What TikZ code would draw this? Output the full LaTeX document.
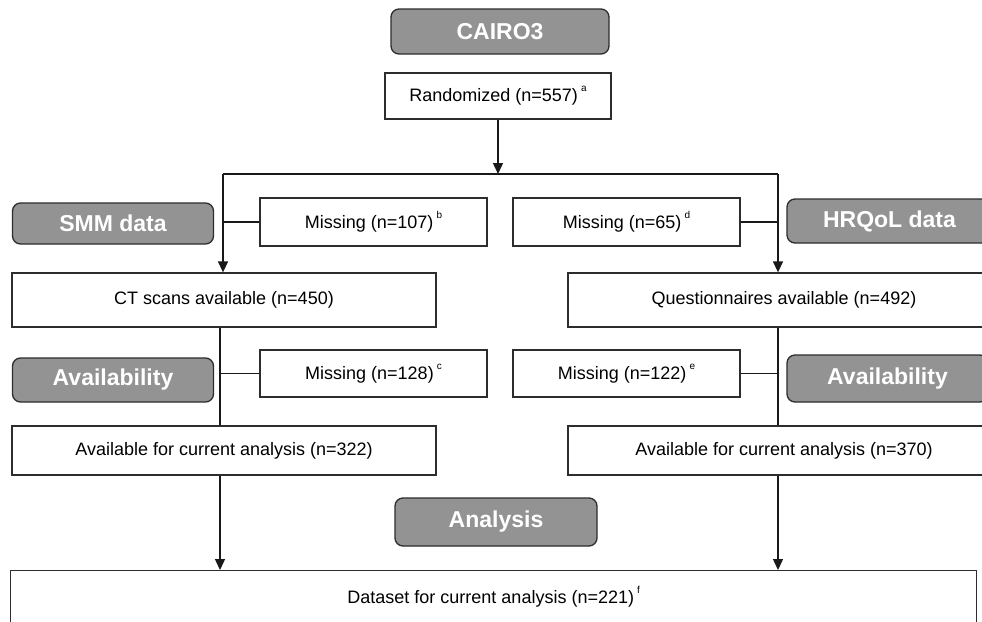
\documentclass[tikz,border=0pt]{standalone}
\usepackage{fontspec}
\setmainfont{Liberation Sans}
\usetikzlibrary{arrows.meta}
\definecolor{graybox}{RGB}{147,147,147}
\definecolor{edge}{RGB}{45,45,45}
\newcommand{\supmark}[1]{\,\raisebox{0.55em}{\fontsize{10}{10}\selectfont #1}}
\begin{document}
\begin{tikzpicture}[x=1pt,y=-1pt,
  wbox/.style={draw=edge, line width=1.3pt, fill=white, inner sep=0pt,
    font=\fontsize{18}{20}\selectfont},
  gbox/.style={draw=edge, line width=1.3pt, fill=graybox, rounded corners=8pt,
    inner sep=0pt, text=white, font=\fontsize{23}{25}\selectfont\bfseries},
  conn/.style={line width=1.4pt, black!90},
  arr/.style={conn, -{Triangle[width=10pt,length=11pt]}}
]
\clip (0,0) rectangle (982,621);
\fill[white] (0,0) rectangle (982,621);

% title and top
\node[gbox, minimum width=218pt, minimum height=45pt] (cairo) at (500,31.5) {CAIRO3};
\node[wbox, minimum width=226pt, minimum height=46pt] (rand) at (498,96) {Randomized (n=557)\supmark{a}};

% category labels
\node[gbox, minimum width=201pt, minimum height=41pt] (smm) at (113,223.5) {SMM data};
\node[gbox, minimum width=205pt, minimum height=44pt] (hrq) at (889.5,221) {HRQoL data};
\node[gbox, minimum width=201pt, minimum height=44pt] (avl) at (113,380) {\raisebox{-2pt}{Availability}};
\node[gbox, minimum width=201pt, minimum height=47pt] (avr) at (887.5,378.5) {Availability};
\node[gbox, minimum width=202pt, minimum height=48pt] (ana) at (496,522) {Analysis};

% missing boxes
\node[wbox, minimum width=227pt, minimum height=48pt] (m107) at (373.5,222) {Missing (n=107)\supmark{b}};
\node[wbox, minimum width=227pt, minimum height=48pt] (m65) at (626.5,222) {Missing (n=65)\supmark{d}};
\node[wbox, minimum width=227pt, minimum height=47pt] (m128) at (373.5,373.5) {Missing (n=128)\supmark{c}};
\node[wbox, minimum width=227pt, minimum height=47pt] (m122) at (626.5,373.5) {Missing (n=122)\supmark{e}};

% main boxes
\node[wbox, minimum width=424pt, minimum height=54pt] (ct) at (224,300) {CT scans available (n=450)};
\node[wbox, minimum width=432pt, minimum height=54pt] (qu) at (784,300) {Questionnaires available (n=492)};
\node[wbox, minimum width=424pt, minimum height=49pt] (a322) at (224,450.5) {Available for current analysis (n=322)};
\node[wbox, minimum width=432pt, minimum height=49pt] (a370) at (784,450.5) {Available for current analysis (n=370)};
\node[wbox, minimum width=966pt, minimum height=52pt, anchor=north west] (ds) at (10,570) {Dataset for current analysis (n=221)\supmark{f}};

% connectors
\coordinate (split) at (498,174);
\coordinate (sl) at (223,174);
\coordinate (sr) at (778,174);
\coordinate (ll) at (220,0);
\draw[arr] (rand.south -| split) -- (split);
\draw[conn] (sl) -- (sr);
\draw[arr] (sl) -- (sl |- ct.north);
\draw[arr] (sr) -- (sr |- qu.north);
\draw[conn] (m107.west) -- (m107.west -| sl);
\draw[conn] (m65.east) -- (m65.east -| sr);
\draw[conn] (ct.south -| ll) -- (a322.north -| ll);
\draw[conn] (qu.south -| sr) -- (a370.north -| sr);
\draw[conn] (m128.west) -- (m128.west -| ll);
\draw[conn] (m122.east) -- (m122.east -| sr);
\draw[arr] (a322.south -| ll) -- (ds.north -| ll);
\draw[arr] (a370.south -| sr) -- (ds.north -| sr);
\end{tikzpicture}
\end{document}
